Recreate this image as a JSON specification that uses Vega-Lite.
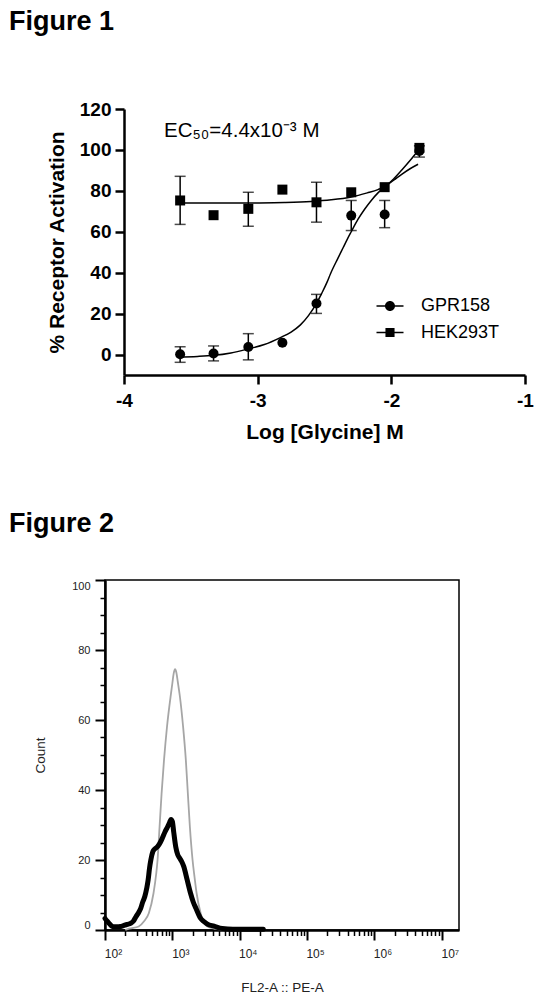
{
  "$schema": "https://vega.github.io/schema/vega-lite/v6.json",
  "background": "white",
  "padding": {"left": 8, "top": 8, "right": 0, "bottom": 0},
  "bounds": "flush",
  "spacing": 205,
  "config": {
    "font": "Arial, Liberation Sans, sans-serif",
    "view": {"stroke": null},
    "axis": {"grid": false, "domainColor": "black", "tickColor": "black", "labelColor": "black", "titleColor": "black"}
  },
  "datasets": {
    "points": [
      {"series": "GPR158", "x": -3.58, "y": 0.1, "lo": -3.8, "hi": 3.8},
      {"series": "GPR158", "x": -3.33, "y": 0.5, "lo": -3.1, "hi": 4.2},
      {"series": "GPR158", "x": -3.07, "y": 3.7, "lo": -2.6, "hi": 10.2},
      {"series": "GPR158", "x": -2.815, "y": 5.8, "lo": null, "hi": null},
      {"series": "GPR158", "x": -2.56, "y": 24.9, "lo": 20.1, "hi": 29.4},
      {"series": "GPR158", "x": -2.30, "y": 67.9, "lo": 60.6, "hi": 75.3},
      {"series": "GPR158", "x": -2.05, "y": 68.4, "lo": 62.0, "hi": 75.3},
      {"series": "GPR158", "x": -1.79, "y": 99.5, "lo": 96.5, "hi": 102.0},
      {"series": "HEK293T", "x": -3.58, "y": 75.3, "lo": 63.6, "hi": 87.1},
      {"series": "HEK293T", "x": -3.33, "y": 68.1, "lo": null, "hi": null},
      {"series": "HEK293T", "x": -3.07, "y": 71.2, "lo": 62.7, "hi": 79.3},
      {"series": "HEK293T", "x": -2.815, "y": 80.6, "lo": null, "hi": null},
      {"series": "HEK293T", "x": -2.56, "y": 74.4, "lo": 64.7, "hi": 84.2},
      {"series": "HEK293T", "x": -2.30, "y": 79.3, "lo": null, "hi": null},
      {"series": "HEK293T", "x": -2.05, "y": 81.8, "lo": null, "hi": null},
      {"series": "HEK293T", "x": -1.79, "y": 101.0, "lo": null, "hi": null}
    ],
    "fits": [
      {"series": "GPR158", "x": -3.60, "y": -1.2},
      {"series": "GPR158", "x": -3.45, "y": -0.9},
      {"series": "GPR158", "x": -3.33, "y": -0.4},
      {"series": "GPR158", "x": -3.20, "y": 0.8},
      {"series": "GPR158", "x": -3.08, "y": 2.6},
      {"series": "GPR158", "x": -2.95, "y": 4.9},
      {"series": "GPR158", "x": -2.83, "y": 8.3},
      {"series": "GPR158", "x": -2.75, "y": 11.0},
      {"series": "GPR158", "x": -2.68, "y": 14.5},
      {"series": "GPR158", "x": -2.62, "y": 19.0},
      {"series": "GPR158", "x": -2.56, "y": 25.0},
      {"series": "GPR158", "x": -2.52, "y": 30.0},
      {"series": "GPR158", "x": -2.48, "y": 35.5},
      {"series": "GPR158", "x": -2.455, "y": 39.5},
      {"series": "GPR158", "x": -2.40, "y": 47.0},
      {"series": "GPR158", "x": -2.36, "y": 52.3},
      {"series": "GPR158", "x": -2.33, "y": 56.3},
      {"series": "GPR158", "x": -2.30, "y": 60.0},
      {"series": "GPR158", "x": -2.25, "y": 66.0},
      {"series": "GPR158", "x": -2.20, "y": 71.0},
      {"series": "GPR158", "x": -2.15, "y": 75.3},
      {"series": "GPR158", "x": -2.10, "y": 79.0},
      {"series": "GPR158", "x": -2.05, "y": 82.0},
      {"series": "GPR158", "x": -1.98, "y": 85.3},
      {"series": "GPR158", "x": -1.92, "y": 88.2},
      {"series": "GPR158", "x": -1.86, "y": 90.8},
      {"series": "GPR158", "x": -1.80, "y": 93.0},
      {"series": "HEK293T", "x": -3.60, "y": 74.0},
      {"series": "HEK293T", "x": -3.30, "y": 74.0},
      {"series": "HEK293T", "x": -3.00, "y": 74.1},
      {"series": "HEK293T", "x": -2.80, "y": 74.3},
      {"series": "HEK293T", "x": -2.60, "y": 74.8},
      {"series": "HEK293T", "x": -2.45, "y": 75.6},
      {"series": "HEK293T", "x": -2.30, "y": 77.0},
      {"series": "HEK293T", "x": -2.18, "y": 79.0},
      {"series": "HEK293T", "x": -2.10, "y": 80.6},
      {"series": "HEK293T", "x": -2.05, "y": 82.0},
      {"series": "HEK293T", "x": -1.98, "y": 86.0},
      {"series": "HEK293T", "x": -1.92, "y": 90.3},
      {"series": "HEK293T", "x": -1.86, "y": 94.8},
      {"series": "HEK293T", "x": -1.79, "y": 100.5}
    ],
    "control": [
      {"fl2": 200, "count": 0},
      {"fl2": 229, "count": 0.4},
      {"fl2": 316, "count": 1.0},
      {"fl2": 380, "count": 2.5},
      {"fl2": 447, "count": 4.8},
      {"fl2": 525, "count": 10.5},
      {"fl2": 575, "count": 16},
      {"fl2": 603, "count": 20},
      {"fl2": 646, "count": 29.5},
      {"fl2": 692, "count": 39},
      {"fl2": 752, "count": 48.6},
      {"fl2": 832, "count": 58},
      {"fl2": 955, "count": 67.6},
      {"fl2": 1000, "count": 70.5},
      {"fl2": 1047, "count": 73.3},
      {"fl2": 1096, "count": 74.5},
      {"fl2": 1148, "count": 73.5},
      {"fl2": 1202, "count": 71},
      {"fl2": 1288, "count": 67},
      {"fl2": 1445, "count": 58},
      {"fl2": 1585, "count": 48.6},
      {"fl2": 1698, "count": 39},
      {"fl2": 1820, "count": 29.5},
      {"fl2": 1995, "count": 20},
      {"fl2": 2138, "count": 15},
      {"fl2": 2291, "count": 10.5},
      {"fl2": 2630, "count": 4.8},
      {"fl2": 3311, "count": 1.0},
      {"fl2": 4365, "count": 0.3},
      {"fl2": 6310, "count": 0},
      {"fl2": 10000, "count": 0}
    ],
    "sample": [
      {"fl2": 100, "count": 3.3},
      {"fl2": 107, "count": 2.6},
      {"fl2": 115, "count": 1.9},
      {"fl2": 126, "count": 1.1},
      {"fl2": 135, "count": 0.9},
      {"fl2": 151, "count": 0.9},
      {"fl2": 170, "count": 1.0},
      {"fl2": 191, "count": 1.3},
      {"fl2": 214, "count": 1.6},
      {"fl2": 240, "count": 1.9},
      {"fl2": 263, "count": 2.5},
      {"fl2": 288, "count": 3.8},
      {"fl2": 316, "count": 5.0},
      {"fl2": 339, "count": 6.2},
      {"fl2": 363, "count": 8.0},
      {"fl2": 389, "count": 9.5},
      {"fl2": 417, "count": 12},
      {"fl2": 437, "count": 14.3},
      {"fl2": 457, "count": 17.5},
      {"fl2": 479, "count": 20},
      {"fl2": 513, "count": 22.4},
      {"fl2": 550, "count": 23.2},
      {"fl2": 603, "count": 23.8},
      {"fl2": 661, "count": 25},
      {"fl2": 708, "count": 26.2},
      {"fl2": 776, "count": 28},
      {"fl2": 851, "count": 29.5},
      {"fl2": 912, "count": 30.8},
      {"fl2": 955, "count": 31.6},
      {"fl2": 1000, "count": 31.0},
      {"fl2": 1047, "count": 28},
      {"fl2": 1122, "count": 23.8},
      {"fl2": 1202, "count": 21.5},
      {"fl2": 1288, "count": 20.5},
      {"fl2": 1380, "count": 19.5},
      {"fl2": 1479, "count": 18.1},
      {"fl2": 1660, "count": 14.3},
      {"fl2": 1862, "count": 10.5},
      {"fl2": 2042, "count": 8},
      {"fl2": 2239, "count": 6.2},
      {"fl2": 2630, "count": 3.3},
      {"fl2": 2951, "count": 2.4},
      {"fl2": 3311, "count": 1.7},
      {"fl2": 4169, "count": 1.1},
      {"fl2": 5495, "count": 0.4},
      {"fl2": 7943, "count": 0.2},
      {"fl2": 12589, "count": 0.2},
      {"fl2": 22387, "count": 0.2}
    ]
  },
  "vconcat": [
    {
      "width": 420,
      "height": 266,
      "title": {"text": "Figure 1", "anchor": "start", "frame": "group", "dx": -96, "offset": 64, "fontSize": 27, "fontWeight": "bold", "color": "black"},
      "layer": [
        {
          "data": {"name": "fits"},
          "mark": {"type": "line", "color": "black", "strokeWidth": 1.5, "interpolate": "monotone"},
          "encoding": {
            "x": {
              "field": "x", "type": "quantitative", "title": "Log [Glycine] M",
              "scale": {"domain": [-4, -1], "rangeMin": 19, "nice": false, "zero": false},
              "axis": {"values": [-4, -3, -2, -1], "labelExpr": "'' + datum.value", "labelFontSize": 19, "labelFontWeight": "bold", "tickSize": 9, "tickWidth": 2.5, "domainWidth": 2.5, "labelPadding": 7, "labelFlush": false, "labelOverlap": false, "titleFontSize": 21, "titleFontWeight": "bold", "titlePadding": 11}
            },
            "y": {
              "field": "y", "type": "quantitative", "title": "% Receptor Activation",
              "scale": {"domain": [-10, 120], "nice": false, "zero": false},
              "axis": {"values": [0, 20, 40, 60, 80, 100, 120], "offset": -19, "labelFontSize": 19, "labelFontWeight": "bold", "tickSize": 9, "tickWidth": 2.5, "domainWidth": 2.5, "labelPadding": 4, "labelFlush": false, "titleFontSize": 21, "titleFontWeight": "bold", "titlePadding": 12}
            },
            "detail": {"field": "series"}
          }
        },
        {
          "data": {"name": "points"},
          "transform": [{"filter": "datum.lo != null"}],
          "mark": {"type": "errorbar", "color": "black", "thickness": 1.5, "ticks": {"size": 11, "thickness": 1.5}, "rule": {"strokeWidth": 1.5}},
          "encoding": {
            "x": {"field": "x", "type": "quantitative", "title": "Log [Glycine] M"},
            "y": {"field": "lo", "type": "quantitative", "title": "% Receptor Activation"},
            "y2": {"field": "hi"}
          }
        },
        {
          "data": {"name": "points"},
          "mark": {"type": "point", "filled": true, "size": 100, "opacity": 1, "color": "black"},
          "encoding": {
            "x": {"field": "x", "type": "quantitative", "title": "Log [Glycine] M"},
            "y": {"field": "y", "type": "quantitative", "title": "% Receptor Activation"},
            "shape": {
              "field": "series", "type": "nominal",
              "scale": {"domain": ["GPR158", "HEK293T"], "range": ["circle", "square"]},
              "legend": null
            }
          }
        },
        {
          "data": {"name": "points"},
          "transform": [{"filter": "false"}],
          "mark": {"type": "point", "filled": true, "size": 121, "opacity": 1, "color": "black"},
          "encoding": {
            "x": {"field": "x", "type": "quantitative", "title": "Log [Glycine] M"},
            "y": {"field": "y", "type": "quantitative", "title": "% Receptor Activation"},
            "shape": {
              "field": "series", "type": "nominal",
              "scale": {
                "domain": ["GPR158", "HEK293T"],
                "range": [
                  "M-2.7,-0.14H2.7V0.14H-2.7Z M1,0A1,1,0,1,1,-1,0A1,1,0,1,1,1,0Z",
                  "M-2.7,-0.14H2.7V0.14H-2.7Z M-0.91,-0.91H0.91V0.91H-0.91Z"
                ]
              },
              "legend": {
                "title": null, "orient": "none", "legendX": 276, "legendY": 188, "padding": 0,
                "labelFontSize": 18, "labelColor": "black", "labelOffset": 22, "rowPadding": 8.5,
                "symbolFillColor": "black", "symbolOpacity": 1
              }
            }
          }
        },
        {
          "data": {"values": [{"x": -3.70, "y": 106.5, "label": "EC₅₀=4.4x10⁻³ M"}]},
          "mark": {"type": "text", "align": "left", "baseline": "alphabetic", "fontSize": 20.5, "color": "black"},
          "encoding": {
            "x": {"field": "x", "type": "quantitative", "title": "Log [Glycine] M"},
            "y": {"field": "y", "type": "quantitative", "title": "% Receptor Activation"},
            "text": {"field": "label"}
          }
        }
      ],
      "resolve": {"scale": {"shape": "independent"}}
    },
    {
      "width": 354,
      "height": 350,
      "view": {"stroke": "black", "strokeWidth": 1.5},
      "title": {"text": "Figure 2", "anchor": "start", "frame": "group", "dx": -96, "offset": 41, "fontSize": 27, "fontWeight": "bold", "color": "black"},
      "layer": [
        {
          "data": {"name": "control"},
          "mark": {"type": "line", "color": "#a6a6a6", "strokeWidth": 1.8, "interpolate": "monotone"},
          "encoding": {
            "x": {
              "field": "fl2", "type": "quantitative", "title": "FL2-A :: PE-A",
              "scale": {"type": "log", "domain": [100, 18000000], "nice": false},
              "axis": {"orient": "bottom", "values": [100, 1000, 10000, 100000, 1000000, 10000000], "labelExpr": "'10' + ['⁰','¹','²','³','⁴','⁵','⁶','⁷'][round(log(datum.value) / LN10)]", "tickSize": 10, "tickWidth": 2, "domainWidth": 2.5, "labelFontSize": 12, "labelColor": "#222", "labelPadding": 8, "labelOffset": 8, "labelFlush": false, "labelOverlap": false, "titleFontSize": 13.5, "titleFontWeight": "normal", "titleColor": "#222", "titlePadding": 21}
            },
            "y": {
              "field": "count", "type": "quantitative", "title": "Count",
              "scale": {"domain": [0, 100], "nice": false},
              "axis": {"orient": "left", "values": [0, 20, 40, 60, 80, 100], "tickSize": 10, "tickWidth": 2, "domainWidth": 2.5, "labelFontSize": 11, "labelColor": "#222", "labelPadding": 5, "labelFlush": true, "titleFontSize": 13.5, "titleFontWeight": "normal", "titleColor": "#222", "titlePadding": 24}
            }
          }
        },
        {
          "data": {"name": "sample"},
          "mark": {"type": "line", "color": "black", "strokeWidth": 5, "strokeJoin": "round", "strokeCap": "round", "interpolate": "monotone"},
          "encoding": {
            "x": {
              "field": "fl2", "type": "quantitative", "title": null,
              "axis": {"orient": "bottom", "values": [200, 300, 400, 500, 600, 700, 800, 900, 2000, 3000, 4000, 5000, 6000, 7000, 8000, 9000, 20000, 30000, 40000, 50000, 60000, 70000, 80000, 90000, 200000, 300000, 400000, 500000, 600000, 700000, 800000, 900000, 2000000, 3000000, 4000000, 5000000, 6000000, 7000000, 8000000, 9000000], "tickSize": 5.5, "tickWidth": 1.5, "labels": false, "domain": false, "title": null}
            },
            "y": {
              "field": "count", "type": "quantitative", "title": null,
              "axis": {"orient": "left", "values": [5, 10, 15, 25, 30, 35, 45, 50, 55, 65, 70, 75, 85, 90, 95], "tickSize": 5, "tickWidth": 1.5, "labels": false, "domain": false, "title": null}
            }
          }
        }
      ],
      "resolve": {"axis": {"x": "independent", "y": "independent"}}
    }
  ]
}
